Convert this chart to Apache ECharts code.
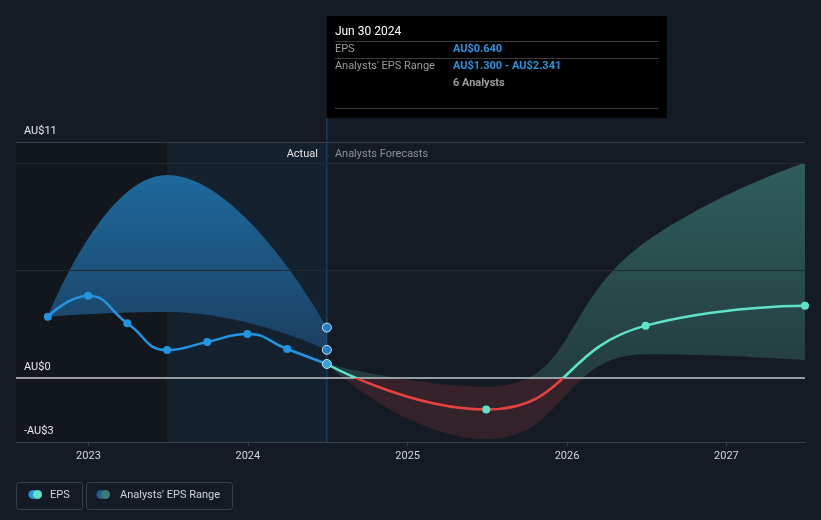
<!DOCTYPE html>
<html><head><meta charset="utf-8">
<script src="https://cdn.jsdelivr.net/npm/echarts@6/dist/echarts.min.js"></script>
<style>html,body{margin:0;padding:0;background:#151b24;}#c{width:821px;height:520px;}</style>
</head><body><div id="c"></div>
<script>
// ---- data ----
const actualDates = ['2022-09-30','2022-12-31','2023-03-31','2023-06-30','2023-09-30','2023-12-31','2024-03-31','2024-06-30'];
const actualEps   = [2.85, 3.83, 2.54, 1.29, 1.67, 2.04, 1.34, 0.64];
const pastRangeDates = ['2022-09-30','2023-06-30','2024-06-30'];
const pastRangeLow   = [2.85, 3.07, 1.300];
const pastRangeHigh  = [2.85, 9.46, 2.341];
const forecastDates = ['2024-06-30','2025-06-30','2026-06-30','2027-06-30'];
const forecastEps   = [0.64, -1.48, 2.43, 3.36];
const forecastLow   = [0.64, -2.86, 1.10, 0.83];
const forecastHigh  = [0.64, -0.42, 6.33, 10.03];
const yMin = -3, yMax = 11;
const yLabelValues = [-3, 0, 11];
const xMin = '2022-07-19', xMax = '2027-06-30';
const highlightStart = '2023-06-30';
const tooltipTitle = 'Jun 30 2024';
const analystsCount = 6;

const FONT = 'Roboto, "Noto Sans", sans-serif';
function ts(s){const p=s.split('-').map(Number);return new Date(p[0],p[1]-1,p[2]).getTime();}
function pairs(ds, vs){return ds.map((d,i)=>[ts(d), vs[i]]);}
function fmt(v){return (v<0?'-':'')+'AU$'+Math.abs(v).toFixed(3);}
function yLab(v){return (v<0?'-':'')+'AU$'+Math.abs(v);}

const chart = echarts.init(document.getElementById('c'), null, {renderer:'canvas'});

function build(g){
  const LG = echarts.graphic.LinearGradient;
  const teal = '#5fe3c8', red = '#e5413f', blue = '#2394df';
  let fcLine = teal, fcBand = 'rgba(46,92,92,0.9)', pastBand = '#1c5a88';
  if (g){
    const zo = (g.zeroY - g.topY)/(g.botY - g.topY);
    fcLine = new LG(0, g.zeroY-0.5, 0, g.zeroY+0.5, [
      {offset:0,color:teal},{offset:0.5,color:teal},{offset:0.5,color:red},{offset:1,color:red}], true);
    fcBand = new LG(0, g.topY, 0, g.botY, [
      {offset:0,color:'#31605f'},{offset:zo,color:'#233d3f'},
      {offset:zo,color:'#36222a'},{offset:1,color:'#33222a'}], true);
    pastBand = new LG(0, g.topY+30, 0, g.zeroY-25, [
      {offset:0,color:'#1e6a9e'},{offset:1,color:'#1b3f60'}], true);
  }
  const splitColors = [];
  for (let v=yMin; v<=yMax; v++) splitColors.push(v===11?'#3a3f47':(v===5||v===10)?'#232a34':'rgba(0,0,0,0)');
  const lastA = actualDates.length-1, lastP = pastRangeDates.length-1;
  const opt = {
    backgroundColor:'#151b24',
    animation:false,
    textStyle:{fontFamily:FONT},
    grid:{left:16,right:16,top:142,bottom:78,containLabel:false},
    xAxis:{type:'time',min:ts(xMin),max:ts(xMax),z:5,
      minInterval:365*24*3600*1000, splitNumber:5,
      axisLine:{onZero:false,lineStyle:{color:'#3b4049',width:1}},
      axisTick:{show:true,length:4,lineStyle:{color:'#3b4049'}},
      axisLabel:{formatter:'{yyyy}',color:'#d4d6d9',fontSize:11,margin:9,fontFamily:FONT,showMinLabel:false,showMaxLabel:false},
      splitLine:{show:false}},
    yAxis:{type:'value',min:yMin,max:yMax,interval:1,z:5,
      axisLine:{show:false},axisTick:{show:false},
      axisLabel:{inside:true,margin:8,color:'#e8e9eb',fontSize:11,fontFamily:FONT,verticalAlign:'bottom',padding:[0,0,5,0],
        formatter:v=>yLabelValues.indexOf(Math.round(v))>=0?yLab(Math.round(v)):''},
      splitLine:{show:true,lineStyle:{color:splitColors,width:1}}},
    series:[
      {type:'line',name:'pastLow',stack:'past',stackStrategy:'all',data:pairs(pastRangeDates,pastRangeLow),smooth:0.5,symbol:'none',
       lineStyle:{width:0,opacity:0},z:2,silent:true,
       markArea:{silent:true,z:1,data:[
         [{xAxis:ts(xMin),itemStyle:{color:'#12161d'}},{xAxis:ts(highlightStart)}],
         [{xAxis:ts(highlightStart),itemStyle:{color:'#14212f'}},{xAxis:ts(actualDates[lastA])}]]}},
      {type:'line',name:'pastHigh',stack:'past',stackStrategy:'all',data:pairs(pastRangeDates,pastRangeHigh.map((v,i)=>v-pastRangeLow[i])),smooth:0.5,symbol:'none',
       lineStyle:{width:0,opacity:0},areaStyle:{color:pastBand,opacity:1},z:2,silent:true},
      {type:'line',name:'fcLow',stack:'fc',stackStrategy:'all',data:pairs(forecastDates,forecastLow),smooth:0.5,symbol:'none',
       lineStyle:{width:0,opacity:0},z:2,silent:true},
      {type:'line',name:'fcHigh',stack:'fc',stackStrategy:'all',data:pairs(forecastDates,forecastHigh.map((v,i)=>v-forecastLow[i])),smooth:0.5,symbol:'none',
       lineStyle:{width:0,opacity:0},areaStyle:{color:fcBand,opacity:1},z:2,silent:true,
       markLine:{silent:true,z:6,symbol:'none',label:{show:false},lineStyle:{color:'#c4c7cc',width:1.5,type:'solid'},data:[{yAxis:0}]}},
      {type:'line',name:'EPS',data:pairs(actualDates,actualEps),smooth:0.5,symbol:'circle',symbolSize:8,showAllSymbol:true,
       lineStyle:{color:blue,width:2.5},itemStyle:{color:blue},z:10},
      {type:'line',name:'EPS forecast',data:pairs(forecastDates,forecastEps),smooth:0.5,symbol:'circle',symbolSize:8,showAllSymbol:true,
       lineStyle:{color:fcLine,width:2.5},itemStyle:{color:teal},z:10},
      {type:'scatter',name:'hl',data:[
         [ts(pastRangeDates[lastP]),pastRangeHigh[lastP]],
         [ts(pastRangeDates[lastP]),pastRangeLow[lastP]],
         [ts(actualDates[lastA]),actualEps[lastA]]],
       symbolSize:9,itemStyle:{color:blue,borderColor:'#ffffff',borderWidth:1},z:12,silent:true}
    ],
    graphic:[]
  };
  if (g){
    const x0 = g.xHL, gr = [];
    gr.push({type:'line',shape:{x1:x0,y1:118,x2:x0,y2:g.botY},style:{stroke:'rgba(40,110,170,0.55)',lineWidth:1},z:3,silent:true});
    gr.push({type:'rect',shape:{x:x0,y:16,width:340,height:102},style:{fill:'#000000'},z:20});
    const T=(x,y,text,fill,weight,size,align)=>({type:'text',x:x,y:y,z:21,style:{text:text,fill:fill,font:(weight||'normal')+' '+(size||11)+'px '+FONT,textVerticalAlign:'middle',textAlign:align||'left'}});
    const L=(y)=>({type:'line',shape:{x1:x0+8,y1:y,x2:x0+332,y2:y},style:{stroke:'#3a3a3a',lineWidth:1},z:21});
    gr.push(T(x0+8,31.5,tooltipTitle,'#ffffff','normal',12));
    gr.push(L(41.5)); gr.push(L(58.5)); gr.push(L(108.5));
    gr.push(T(x0+8,49.5,'EPS','#9b9b9b'));
    gr.push(T(x0+126,49.5,fmt(actualEps[lastA]),blue,'bold'));
    gr.push(T(x0+8,66,"Analysts' EPS Range",'#9b9b9b'));
    gr.push(T(x0+126,66,fmt(pastRangeLow[lastP])+' - '+fmt(pastRangeHigh[lastP]),blue,'bold'));
    gr.push(T(x0+126,83,analystsCount+' Analysts','#9b9b9b','bold'));
    gr.push(T(x0-9,154,'Actual','#e6e6e6','normal',11,'right'));
    gr.push(T(x0+8,154,'Analysts Forecasts','#8c9098','normal',11,'left'));
    // legend
    gr.push({type:'rect',shape:{x:16.5,y:482.5,width:66,height:27,r:3},style:{fill:'none',stroke:'#3a404a',lineWidth:1},z:20});
    gr.push({type:'circle',shape:{cx:33,cy:494.5,r:4.5},style:{fill:blue},z:21});
    gr.push({type:'circle',shape:{cx:37.5,cy:494.5,r:4.5},style:{fill:teal},z:22});
    gr.push(T(50,495,'EPS','#d0d2d5'));
    gr.push({type:'rect',shape:{x:86.5,y:482.5,width:146,height:27,r:3},style:{fill:'none',stroke:'#3a404a',lineWidth:1},z:20});
    gr.push({type:'circle',shape:{cx:101,cy:494.5,r:4.5},style:{fill:'#1f5e8c'},z:21});
    gr.push({type:'circle',shape:{cx:105.5,cy:494.5,r:4.5},style:{fill:'#3b7b78'},z:22});
    gr.push(T(120,495,"Analysts' EPS Range",'#d0d2d5'));
    opt.graphic = gr;
  }
  return opt;
}

chart.setOption(build(null));
const g = {
  zeroY: chart.convertToPixel({yAxisIndex:0}, 0),
  topY: chart.convertToPixel({yAxisIndex:0}, yMax),
  botY: chart.convertToPixel({yAxisIndex:0}, yMin),
  xHL: chart.convertToPixel({xAxisIndex:0}, ts(actualDates[actualDates.length-1]))
};
chart.setOption(build(g), true);
</script></body></html>
